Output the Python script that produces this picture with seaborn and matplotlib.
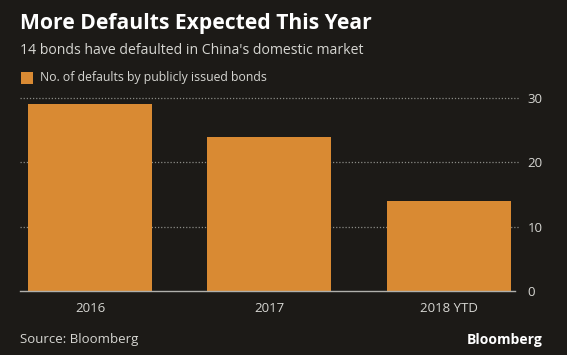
import matplotlib
matplotlib.use("Agg")
import matplotlib.pyplot as plt
import seaborn as sns
import pandas as pd

categories = ["2016", "2017", "2018 YTD"]
defaults = [29, 24, 14]
y_ticks = [0, 10, 20, 30]

BG = "#1c1a17"
BAR = "#d98a33"
GRID = "#8a8a86"
TXT = "#d6d6d2"

sns.set_style("dark")
plt.rcParams['font.family'] = ['Open Sans', 'DejaVu Sans']

fig = plt.figure(figsize=(5.67, 3.55), dpi=100, facecolor=BG)
ax = fig.add_axes([20/567, 1-291/355, (515-20)/567, (291-98)/355])
ax.set_facecolor(BG)

df = pd.DataFrame({"year": categories, "n": defaults})
sns.barplot(data=df, x="year", y="n", color=BAR, saturation=1, width=0.69, ax=ax)
for p in ax.patches:
    p.set_edgecolor("none")

ax.set_xlim(-0.39, 2.37)
ax.set_ylim(0, 30)
ax.set_xlabel("")
ax.set_ylabel("")
ax.yaxis.tick_right()
ax.set_yticks(y_ticks)
ax.set_yticklabels([str(v) for v in y_ticks], color=TXT, fontsize=9.5)
ax.tick_params(axis="y", length=0, pad=9)
ax.tick_params(axis="x", length=4, width=1, color="#b0b0ac", colors=TXT, labelsize=9.5, pad=4, direction="out")
ax.set_xticklabels(categories, color=TXT, fontsize=9.5)

for s in ["top", "left", "right"]:
    ax.spines[s].set_visible(False)
ax.spines["bottom"].set_color("#b0b0ac")
ax.spines["bottom"].set_linewidth(1)

ax.grid(False)
for v in y_ticks[1:]:
    ax.axhline(v, color=GRID, lw=0.9, ls=(0, (1, 1.5)), zorder=0, xmax=1.008, clip_on=False)
ax.set_axisbelow(True)

fig.text(20/567, 1-24/355, "More Defaults Expected This Year", color="white",
         fontsize=15.2, fontweight="bold", va="center", ha="left")
fig.text(20/567, 1-50/355, "14 bonds have defaulted in China's domestic market", color=TXT,
         fontsize=10.1, va="center", ha="left")
fig.patches.append(plt.Rectangle((21/567, 1-84/355), 12/567, 12/355, transform=fig.transFigure,
                                 facecolor=BAR, edgecolor="none"))
fig.text(40/567, 1-77/355, "No. of defaults by publicly issued bonds", color=TXT,
         fontsize=8.85, va="center", ha="left")
fig.text(20/567, 1-339/355, "Source: Bloomberg", color=TXT, fontsize=9.5, va="center", ha="left")
fig.text(543/567, 1-340/355, "Bloomberg", color="white", fontsize=10, fontweight="bold",
         va="center", ha="right")

fig.savefig("out.png", dpi=100, facecolor=BG)
